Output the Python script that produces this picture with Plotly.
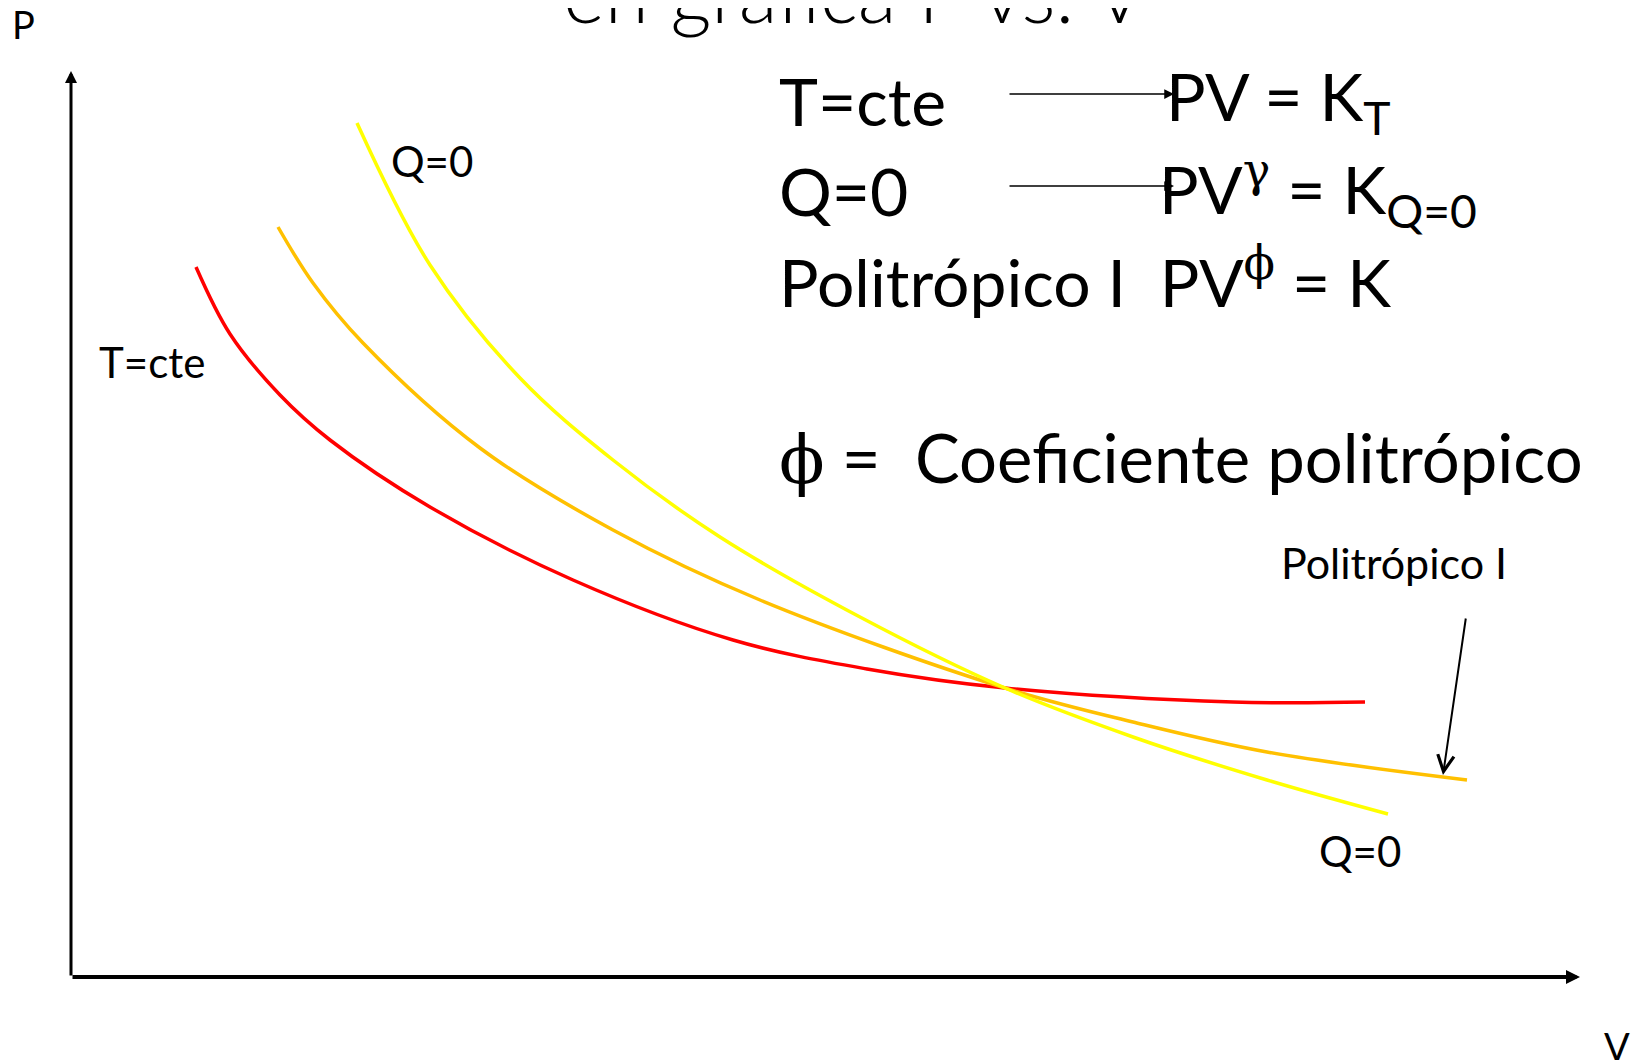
"""P vs V diagram: isotherm, adiabat and polytropic curves"""

import plotly.graph_objects as go

# curves (V, P in arbitrary units, origin at the axes corner)
v_isoterma = [1.25, 1.59, 2.09, 2.59, 3.59, 5.02, 6.62, 7.96, 9.34, 11.62, 12.94]
p_isoterma = [7.10, 6.43, 5.82, 5.37, 4.70, 3.97, 3.37, 3.08, 2.89, 2.75, 2.75]

v_politropico = [2.07, 2.42, 2.92, 4.09, 5.42, 6.89, 9.34, 10.62, 11.96, 13.96]
p_politropico = [7.50, 6.94, 6.34, 5.29, 4.47, 3.77, 2.89, 2.55, 2.25, 1.97]

v_adiabatica = [2.86, 3.59, 4.49, 5.42, 6.49, 7.89, 9.34, 10.62, 11.96, 13.17]
p_adiabatica = [8.54, 7.12, 5.99, 5.17, 4.40, 3.60, 2.89, 2.40, 1.97, 1.63]

colores = {"isoterma": "#FF0000", "politropico": "#FFC000", "adiabatica": "#FFFF00"}

SERIF = "font-family:'DejaVu Serif'"

fig = go.Figure()

for nombre, v, p in [
    ("isoterma", v_isoterma, p_isoterma),
    ("politropico", v_politropico, p_politropico),
    ("adiabatica", v_adiabatica, p_adiabatica),
]:
    fig.add_trace(
        go.Scatter(
            x=v,
            y=p,
            mode="lines",
            line=dict(color=colores[nombre], width=3.5, shape="spline", smoothing=1.0),
            hoverinfo="skip",
            showlegend=False,
        )
    )


def flecha(x0, y0, x1, y1, width, head, size):
    fig.add_annotation(
        x=x1, y=y1, ax=x0, ay=y0, xref="x", yref="y", axref="x", ayref="y",
        text="", showarrow=True, arrowhead=head, arrowsize=size,
        arrowwidth=width, arrowcolor="black", standoff=0, startstandoff=0,
    )


def texto(x, y, s, size, anchor="left", yref="y", weight="normal"):
    fig.add_annotation(
        x=x, y=y, xref="x", yref=yref, text=s, showarrow=False,
        xanchor=anchor, yanchor="middle",
        font=dict(family="Lato", size=size, color="black", weight=weight),
    )


# ejes
flecha(0, 0, 0, 9.06, 3, 2, 0.8)
flecha(0, 0, 15.09, 0, 4, 2, 0.7)

# flechas de las ecuaciones
flecha(9.37, 8.83, 11.03, 8.83, 1.5, 2, 1.3)
flecha(9.37, 7.91, 11.03, 7.91, 1.5, 2, 1.3)
flecha(13.95, 3.60, 13.72, 2.02, 2, 5, 1.6)

# titulo cortado arriba (fuera del area, por eso en coordenadas de papel)
texto(4.90, 1.0150, "en gráfica P vs. V", 80, yref="paper", weight=300)

texto(-0.48, 9.53, "P", 38, "center")
texto(15.46, -0.69, "V", 38, "center")

texto(0.26, 6.15, "T=cte", 42)
texto(3.18, 8.16, "Q=0", 42)
texto(12.08, 4.15, "Politrópico I", 43)
texto(12.46, 1.26, "Q=0", 42)

texto(7.06, 8.77, "T=cte", 66)
texto(10.93, 8.77, "PV = K<sub>T</sub>", 66)
texto(7.06, 7.87, "Q=0", 66)
texto(10.86, 7.87, f"PV<sup><span style=\"{SERIF}\">γ</span></sup> = K<sub>Q=0</sub>", 66)
texto(7.06, 6.99, f"Politrópico I  PV<sup><span style=\"{SERIF}\">ϕ</span></sup> = K", 66)
texto(7.06, 5.19, f"<span style=\"{SERIF}\">ϕ</span> =  Coeficiente politrópico", 67)

# la pagina html deja 8 px de margen, los rangos lo compensan
fig.update_xaxes(visible=False, range=[-0.63, 15.78])
fig.update_yaxes(visible=False, range=[-0.91, 9.69])
fig.update_layout(
    width=1641,
    height=1060,
    margin=dict(l=0, r=0, t=0, b=0),
    paper_bgcolor="white",
    plot_bgcolor="white",
)

fig.write_html("out.html")
